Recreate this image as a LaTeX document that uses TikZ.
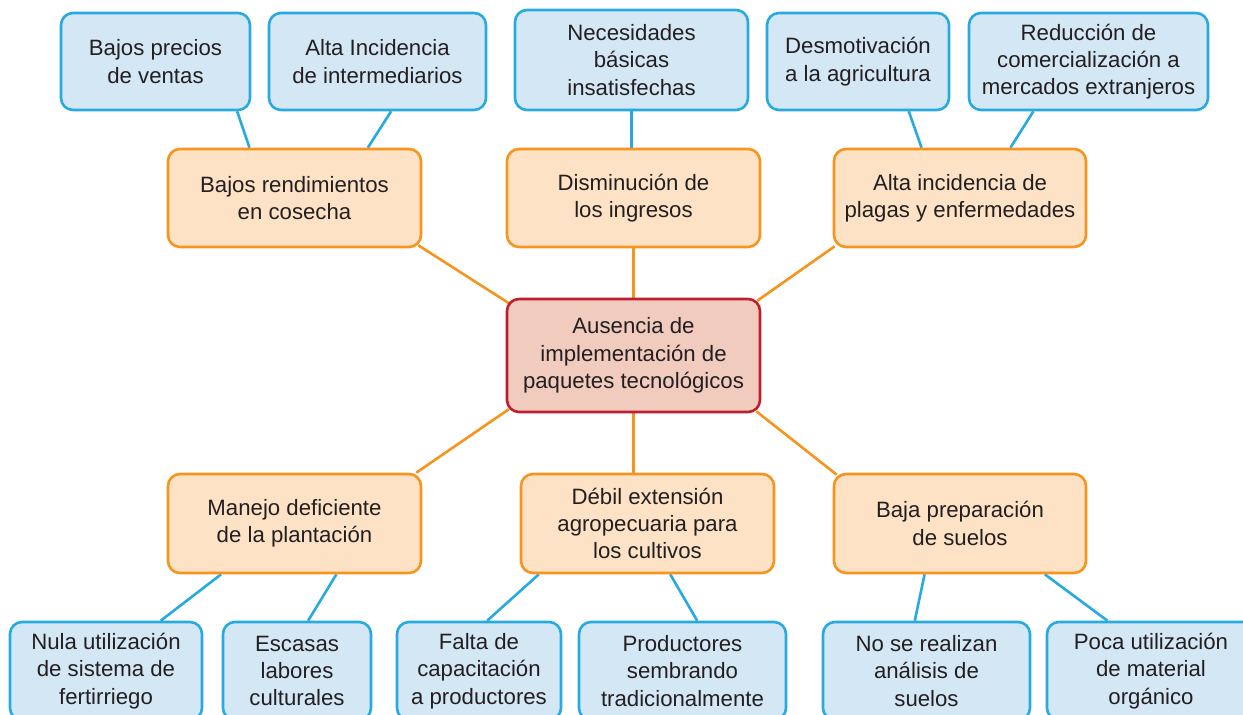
\documentclass[tikz,border=0pt]{standalone}
\usepackage{fontspec}
\setmainfont{Liberation Sans}
\usetikzlibrary{backgrounds,calc}
\definecolor{bfill}{HTML}{D4E7F5}
\definecolor{bdraw}{HTML}{27AAE1}
\definecolor{ofill}{HTML}{FDE2C6}
\definecolor{odraw}{HTML}{F7941E}
\definecolor{rfill}{HTML}{F1CBBE}
\definecolor{rdraw}{HTML}{BE1E2D}
\definecolor{txt}{HTML}{231F20}
\tikzset{
  box/.style={rounded corners=12pt, line width=2.6pt, align=center, inner sep=0pt,
    text=txt, font=\fontsize{22.2}{27.3}\selectfont},
  bluebox/.style={box, draw=bdraw, fill=bfill},
  orangebox/.style={box, draw=odraw, fill=ofill},
  redbox/.style={box, draw=rdraw, fill=rfill},
  bline/.style={draw=bdraw, line width=2.6pt},
  oline/.style={draw=odraw, line width=2.6pt},
}
\begin{document}
\begin{tikzpicture}[x=1pt,y=-1pt]
\clip (0,0) rectangle (1243,715);
% top blue
\node[bluebox, minimum width=189pt, minimum height=97pt] (t1) at (155.5,61.5) {Bajos precios\\de ventas};
\node[bluebox, minimum width=217pt, minimum height=97pt] (t2) at (377.5,61.5) {Alta Incidencia\\de intermediarios};
\node[bluebox, minimum width=233pt, minimum height=100pt] (t3) at (631.5,60) {Necesidades\\básicas\\insatisfechas};
\node[bluebox, minimum width=182pt, minimum height=97pt] (t4) at (858,61.5) {Desmotivación\\a la agricultura};
\node[bluebox, minimum width=239pt, minimum height=97pt] (t5) at (1088.5,61.5) {Reducción de\\comercialización a\\mercados extranjeros};
% upper orange
\node[orangebox, minimum width=253pt, minimum height=98pt] (o1) at (294.5,198) {Bajos rendimientos\\en cosecha};
\node[orangebox, minimum width=253pt, minimum height=98pt] (o2) at (633.5,198) {Disminución de\\los ingresos};
\node[orangebox, minimum width=252pt, minimum height=98pt] (o3) at (960,198) {Alta incidencia de\\plagas y enfermedades};
% center
\node[redbox, minimum width=253pt, minimum height=113pt] (r) at (633.5,355.5) {Ausencia de\\implementación de\\paquetes tecnológicos};
% lower orange
\node[orangebox, minimum width=253pt, minimum height=99pt] (o4) at (294.5,523.5) {Manejo deficiente\\de la plantación};
\node[orangebox, minimum width=253pt, minimum height=99pt] (o5) at (647.5,523.5) {Débil extensión\\agropecuaria para\\los cultivos};
\node[orangebox, minimum width=252pt, minimum height=99pt] (o6) at (960,523.5) {Baja preparación\\de suelos};
% bottom blue
\node[bluebox, minimum width=192pt, minimum height=98pt] (c1) at (106,671) {Nula utilización\\de sistema de\\fertirriego};
\node[bluebox, minimum width=148pt, minimum height=98pt] (c2) at (297,671) {Escasas\\labores\\culturales};
\node[bluebox, minimum width=164pt, minimum height=98pt] (c3) at (479,671) {Falta de\\capacitación\\a productores};
\node[bluebox, minimum width=207pt, minimum height=98pt] (c4) at (682.5,671) {Productores\\sembrando\\tradicionalmente};
\node[bluebox, minimum width=207pt, minimum height=98pt] (c5) at (926.5,671) {No se realizan\\análisis de\\suelos};
\node[bluebox, minimum width=208pt, minimum height=98pt] (c6) at (1151,671) {Poca utilización\\de material\\orgánico};
\begin{pgfonlayer}{background}
\fill[white] (0,0) rectangle (1243,715);
\draw[bline] ($(t1.south west)!0.926!(t1.south east)$) -- ($(o1.north west)!0.324!(o1.north east)$);
\draw[bline] ($(t2.south west)!0.562!(t2.south east)$) -- ($(o1.north west)!0.787!(o1.north east)$);
\draw[bline] (t3.south) -- (t3.south |- o2.north);
\draw[bline] ($(t4.south west)!0.775!(t4.south east)$) -- ($(o3.north west)!0.349!(o3.north east)$);
\draw[bline] ($(t5.south west)!0.272!(t5.south east)$) -- ($(o3.north west)!0.698!(o3.north east)$);
\draw[oline] ($(o1.south east)+(-4,-3)$) -- ($(r.north west)+(4,6)$);
\draw[oline] (o2.south) -- (o2.south |- r.north);
\draw[oline] ($(o3.south west)+(2,-2)$) -- ($(r.north east)+(-4,3)$);
\draw[oline] ($(r.south west)+(3,-4)$) -- ($(o4.north east)+(-6,0)$);
\draw[oline] (r.south) -- (r.south |- o5.north);
\draw[oline] ($(r.south east)+(-5,-2)$) -- ($(o6.north west)+(4,2)$);
\draw[bline] ($(o4.south west)!0.213!(o4.south east)$) -- ($(c1.north west)!0.781!(c1.north east)$);
\draw[bline] ($(o4.south west)!0.664!(o4.south east)$) -- ($(c2.north west)!0.574!(c2.north east)$);
\draw[bline] ($(o5.south west)!0.075!(o5.south east)$) -- ($(c3.north west)!0.549!(c3.north east)$);
\draw[bline] ($(o5.south west)!0.589!(o5.south east)$) -- ($(c4.north west)!0.570!(c4.north east)$);
\draw[bline] ($(o6.south west)!0.361!(o6.south east)$) -- ($(c5.north west)!0.444!(c5.north east)$);
\draw[bline] ($(o6.south west)!0.833!(o6.south east)$) -- ($(c6.north west)!0.293!(c6.north east)$);
\end{pgfonlayer}
\end{tikzpicture}
\end{document}
